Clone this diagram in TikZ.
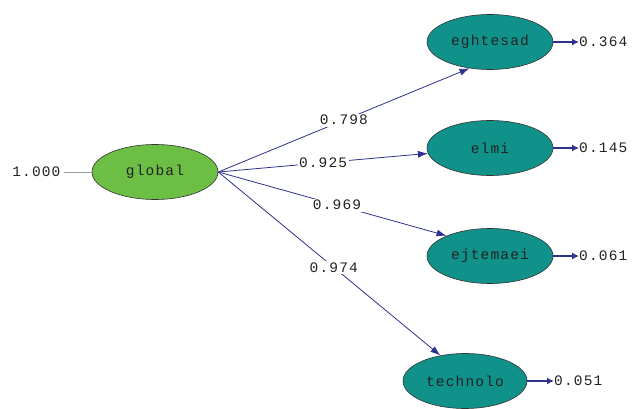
\documentclass[tikz,border=0pt]{standalone}
\usepackage{fontspec}
\setmonofont[LetterSpace=8]{Liberation Mono}
\usepackage{xcolor}
\definecolor{latGreen}{HTML}{6CBF44}
\definecolor{latTeal}{HTML}{10918A}
\definecolor{pathNavy}{HTML}{2E3190}
\definecolor{lineGray}{HTML}{9A9A9A}
\definecolor{textInk}{HTML}{222222}
\usetikzlibrary{arrows.meta,positioning,shapes.geometric}

\begin{document}
\begin{tikzpicture}[
  x=1pt,y=1pt,
  font=\fontsize{14.5}{14.5}\selectfont\ttfamily,
  text=textInk,
  latent/.style={ellipse,draw=black!80,semithick,inner sep=0pt,
                 minimum width=126pt,minimum height=55pt},
  coef/.style={fill=white,inner sep=1.5pt,text=textInk},
  load/.style={-{Latex[length=10pt,width=7pt]},pathNavy,line width=0.8pt},
  err/.style={-{Latex[length=7pt,width=7pt]},pathNavy,line width=1.8pt}
]
\useasboundingbox (0,0) rectangle (632,408);

% factor and indicators
\node[latent, fill=latGreen] (global) at (155,236) {global};
\node[latent, fill=latTeal] (eghtesad) at (490,366) {eghtesad};
\node[latent, fill=latTeal] (elmi) at (490,260) {elmi};
\node[latent, fill=latTeal] (ejtemaei) at (490,152) {ejtemaei};
\node[latent, fill=latTeal, minimum width=124pt] (technolo) at (465,27) {technolo};

% variance of the factor
\node[anchor=east] (var) at (64,236) {1.000};
\draw[lineGray] (var.east) -- (global.west);

% loadings
\draw[load] (global.east) -- node[coef]{0.798} (eghtesad.232);
\draw[load] (global.east) -- node[coef]{0.925} (elmi.185);
\draw[load] (global.east) -- node[coef,pos=0.52]{0.969} (ejtemaei.155);
\draw[load] (global.east) -- node[coef,pos=0.52]{0.974} (technolo.134);

% error variances
\node[anchor=west,inner sep=0pt] (e1) at (579,366) {0.364};
\node[anchor=west,inner sep=0pt] (e2) at (579,260) {0.145};
\node[anchor=west,inner sep=0pt] (e3) at (579,152) {0.061};
\node[anchor=west,inner sep=0pt] (e4) at (554,27) {0.051};
\draw[err] (eghtesad.east) -- (e1.west);
\draw[err] (elmi.east) -- (e2.west);
\draw[err] (ejtemaei.east) -- (e3.west);
\draw[err] (technolo.east) -- (e4.west);
\end{tikzpicture}
\end{document}
